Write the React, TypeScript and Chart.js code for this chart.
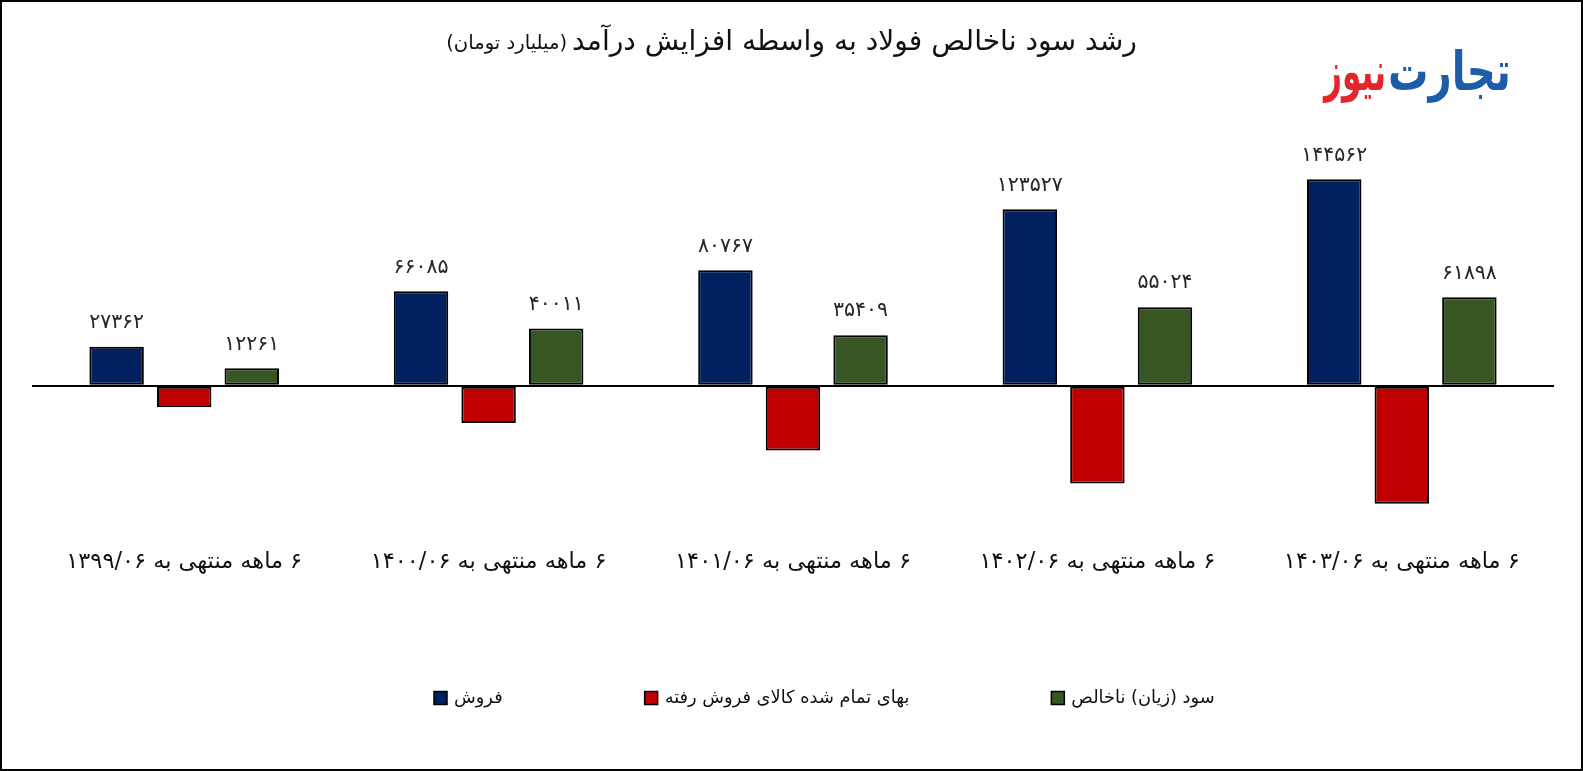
import React, { useEffect, useRef } from "react";
import { Chart, registerables } from "chart.js";

Chart.register(...registerables);

const categories = [
  "۶ ماهه منتهی به ۱۳۹۹/۰۶",
  "۶ ماهه منتهی به ۱۴۰۰/۰۶",
  "۶ ماهه منتهی به ۱۴۰۱/۰۶",
  "۶ ماهه منتهی به ۱۴۰۲/۰۶",
  "۶ ماهه منتهی به ۱۴۰۳/۰۶",
];
const sales = [27362, 66085, 80767, 123527, 144562];
const costOfGoodsSold = [-15101, -26074, -45358, -68503, -82664];
const grossProfit = [12261, 40011, 35409, 55024, 61898];
const seriesNames = ["فروش", "بهای تمام شده کالای فروش رفته", "سود (زیان) ناخالص"];
const seriesColors = ["#002060", "#C00000", "#375623"];
const labeledSeries = [0, 2];
const yMin = -100000;
const yMax = 150000;
const yStep = 50000;

const titleText = "رشد سود ناخالص فولاد به واسطه افزایش درآمد";
const subtitleText = "(میلیارد تومان)";
const logoBlue = "تجارت";
const logoRed = "نیوز";

const FAMILY = '"DejaVu Sans", sans-serif';
const W = 1583;
const H = 771;

const faDigits = "۰۱۲۳۴۵۶۷۸۹";
const toFa = (n: number) => String(n).replace(/[0-9]/g, (d) => faDigits[+d]);

function fitSize(text: string, target: number, weight = "normal") {
  const c = document.createElement("canvas").getContext("2d")!;
  c.font = `${weight} 100px ${FAMILY}`;
  const w = c.measureText(text).width;
  return (100 * target) / w;
}

export default function App() {
  const ref = useRef<HTMLCanvasElement>(null);

  useEffect(() => {
    const canvas = ref.current!;
    const tickSize = fitSize(categories[0], 236);
    const labelSize = fitSize(toFa(144562), 66);
    const titleSize = fitSize(titleText, 565);
    const subSize = fitSize(subtitleText, 121);
    const legendSize = fitSize(seriesNames[1], 245);
    const logoSize = fitSize(logoBlue, 123, "bold");

    const decor = {
      id: "decor",
      beforeDraw(chart: any) {
        const ctx = chart.ctx;
        ctx.save();
        ctx.fillStyle = "#fff";
        ctx.fillRect(0, 0, W, H);
        ctx.restore();
      },
      afterDatasetsDraw(chart: any) {
        const ctx = chart.ctx;
        ctx.save();
        ctx.fillStyle = "#262626";
        ctx.font = `normal ${labelSize}px ${FAMILY}`;
        ctx.textAlign = "center";
        ctx.textBaseline = "middle";
        labeledSeries.forEach((di) => {
          const meta = chart.getDatasetMeta(di);
          meta.data.forEach((el: any, i: number) => {
            const v = chart.data.datasets[di].data[i] as number;
            ctx.fillText(toFa(v), el.x, el.y - 24);
          });
        });
        ctx.restore();
      },
      afterDraw(chart: any) {
        const ctx = chart.ctx;
        ctx.save();
        // title
        ctx.fillStyle = "#111";
        ctx.textBaseline = "middle";
        ctx.textAlign = "left";
        ctx.font = `normal ${titleSize}px ${FAMILY}`;
        const tw = ctx.measureText(titleText).width;
        ctx.font = `normal ${subSize}px ${FAMILY}`;
        const sw = ctx.measureText(subtitleText).width;
        const gap = 5;
        const start = W / 2 - (tw + gap + sw) / 2;
        ctx.fillText(subtitleText, start, 44);
        ctx.font = `normal ${titleSize}px ${FAMILY}`;
        ctx.fillText(titleText, start + sw + gap, 43);

        // logo (stretched vertically to mimic the heavy logotype)
        ctx.font = `bold ${logoSize}px ${FAMILY}`;
        ctx.textAlign = "right";
        ctx.textBaseline = "middle";
        ctx.save();
        ctx.translate(1511, 76);
        ctx.scale(1, 1.35);
        ctx.fillStyle = "#1d5ca8";
        ctx.fillText(logoBlue, 0, 0);
        ctx.restore();
        const rw = ctx.measureText(logoRed).width;
        ctx.save();
        ctx.translate(1386, 76);
        ctx.scale(62 / rw, 1.35);
        ctx.fillStyle = "#e3262b";
        ctx.fillText(logoRed, 0, 0);
        ctx.restore();

        // legend
        ctx.font = `normal ${legendSize}px ${FAMILY}`;
        ctx.textAlign = "left";
        let x = 434;
        const ly = 698;
        seriesNames.forEach((name, i) => {
          ctx.fillStyle = seriesColors[i];
          ctx.fillRect(x, ly - 6.5, 13, 13);
          ctx.strokeStyle = "#000";
          ctx.lineWidth = 1.5;
          ctx.strokeRect(x, ly - 6.5, 13, 13);
          ctx.fillStyle = "#111";
          ctx.fillText(name, x + 20, ly);
          x += 20 + ctx.measureText(name).width + 142;
        });

        // frame
        ctx.strokeStyle = "#000";
        ctx.lineWidth = 2;
        ctx.strokeRect(1, 1, W - 2, H - 2);
        ctx.restore();
      },
    };

    const chart = new Chart(canvas, {
      type: "bar",
      data: {
        labels: categories,
        datasets: [sales, costOfGoodsSold, grossProfit].map((d, i) => ({
          label: seriesNames[i],
          data: d,
          backgroundColor: seriesColors[i],
          borderColor: "#000",
          borderWidth: 2,
          borderSkipped: false,
          categoryPercentage: 0.666,
          barPercentage: 0.806,
        })),
      },
      options: {
        responsive: false,
        animation: false,
        layout: { padding: { top: 171.5, left: 32, right: 29, bottom: 0 } },
        plugins: {
          legend: { display: false },
          tooltip: { enabled: false },
          title: { display: false },
        },
        scales: {
          x: {
            grid: { display: false, drawTicks: false },
            border: { display: false },
            ticks: {
              color: "#111",
              font: { family: FAMILY, size: tickSize },
              padding: 20,
              maxRotation: 0,
              autoSkip: false,
            },
            afterFit: (s: any) => {
              s.height = H - 528.5;
            },
          },
          y: {
            min: yMin,
            max: yMax,
            ticks: { display: false, stepSize: yStep },
            border: { display: false },
            grid: {
              drawTicks: false,
              lineWidth: 2,
              color: (c: any) => (c.tick && c.tick.value === 0 ? "#000" : "rgba(0,0,0,0)"),
            },
            afterFit: (s: any) => {
              s.width = 0;
            },
          },
        },
      },
      plugins: [decor],
    });
    return () => chart.destroy();
  }, []);

  return (
    <div style={{ position: "fixed", left: 0, top: 0, width: W, height: H }}>
      <canvas ref={ref} width={W} height={H} dir="rtl" style={{ display: "block" }} />
    </div>
  );
}
